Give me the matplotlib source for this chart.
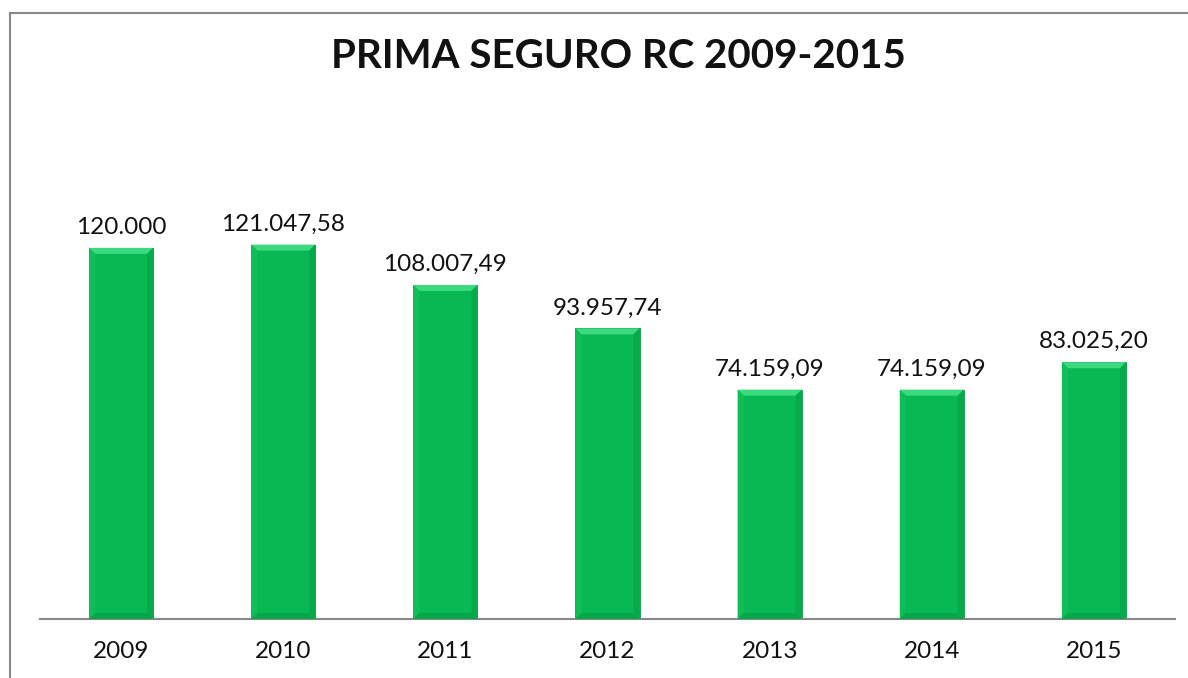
import matplotlib
matplotlib.use("Agg")
import matplotlib.pyplot as plt
from matplotlib.patches import Polygon
from matplotlib.lines import Line2D

years = ["2009", "2010", "2011", "2012", "2013", "2014", "2015"]
values = [120000.00, 121047.58, 108007.49, 93957.74, 74159.09, 74159.09, 83025.20]
labels = ["120.000", "121.047,58", "108.007,49", "93.957,74", "74.159,09", "74.159,09", "83.025,20"]
title = "PRIMA SEGURO RC 2009-2015"

W, H = 1188, 678
fig = plt.figure(figsize=(W / 100, H / 100), dpi=100)
fig.patch.set_facecolor("white")

ax_l, ax_r, ax_b, ax_t = 40, 1175, 619, 186
ax = fig.add_axes([ax_l / W, 1 - ax_b / H, (ax_r - ax_l) / W, (ax_b - ax_t) / H])
ymax = 140000
ax.set_ylim(0, ymax)
ax.set_xlim(-0.5, len(years) - 0.5)

bw = 0.395
base = "#07B853"
x = list(range(len(years)))
ax.bar(x, values, width=bw, color=base, edgecolor="#0A9A45", linewidth=0.6, zorder=2)

# bevel effect
px_x = (len(years)) / (ax_r - ax_l)
px_y = ymax / (ax_b - ax_t)
bx, by = 6 * px_x, 6 * px_y
for xi, v in zip(x, values):
    l, r = xi - bw / 2, xi + bw / 2
    top = [(l, v), (r, v), (r - bx, v - by), (l + bx, v - by)]
    ax.add_patch(Polygon(top, closed=True, facecolor="#3DD97F", edgecolor="none", zorder=3))
    left = [(l, v), (l + bx, v - by), (l + bx, by), (l, 0)]
    ax.add_patch(Polygon(left, closed=True, facecolor="#10BE59", edgecolor="none", zorder=3))
    right = [(r, v), (r - bx, v - by), (r - bx, by), (r, 0)]
    ax.add_patch(Polygon(right, closed=True, facecolor="#06AA4B", edgecolor="none", zorder=3))
    bot = [(l, 0), (r, 0), (r - bx, by), (l + bx, by)]
    ax.add_patch(Polygon(bot, closed=True, facecolor="#06A64A", edgecolor="none", zorder=3))
    ax.text(xi, v + 10 * px_y, labels[xi], ha="center", va="bottom",
            fontsize=17.5, family="Lato", color="#111111")

for s in ["top", "right", "left"]:
    ax.spines[s].set_visible(False)
ax.spines["bottom"].set_color("#888888")
ax.spines["bottom"].set_linewidth(1.5)
ax.set_yticks([])
ax.set_xticks(x)
ax.set_xticklabels(years, fontsize=17.5, family="Lato", color="#111111")
ax.tick_params(axis="x", length=0, pad=16)

fig.text(618 / W, 1 - 56 / H, title, ha="center", va="center", fontsize=29,
         fontweight="bold", family="Lato", color="#111111")

# chart border (top and left)
fig.add_artist(Line2D([10 / W, 1], [1 - 13 / H, 1 - 13 / H], color="#888888", lw=1.5))
fig.add_artist(Line2D([10 / W, 10 / W], [1 - 13 / H, 0], color="#888888", lw=1.5))

fig.savefig("out.png", dpi=100)
